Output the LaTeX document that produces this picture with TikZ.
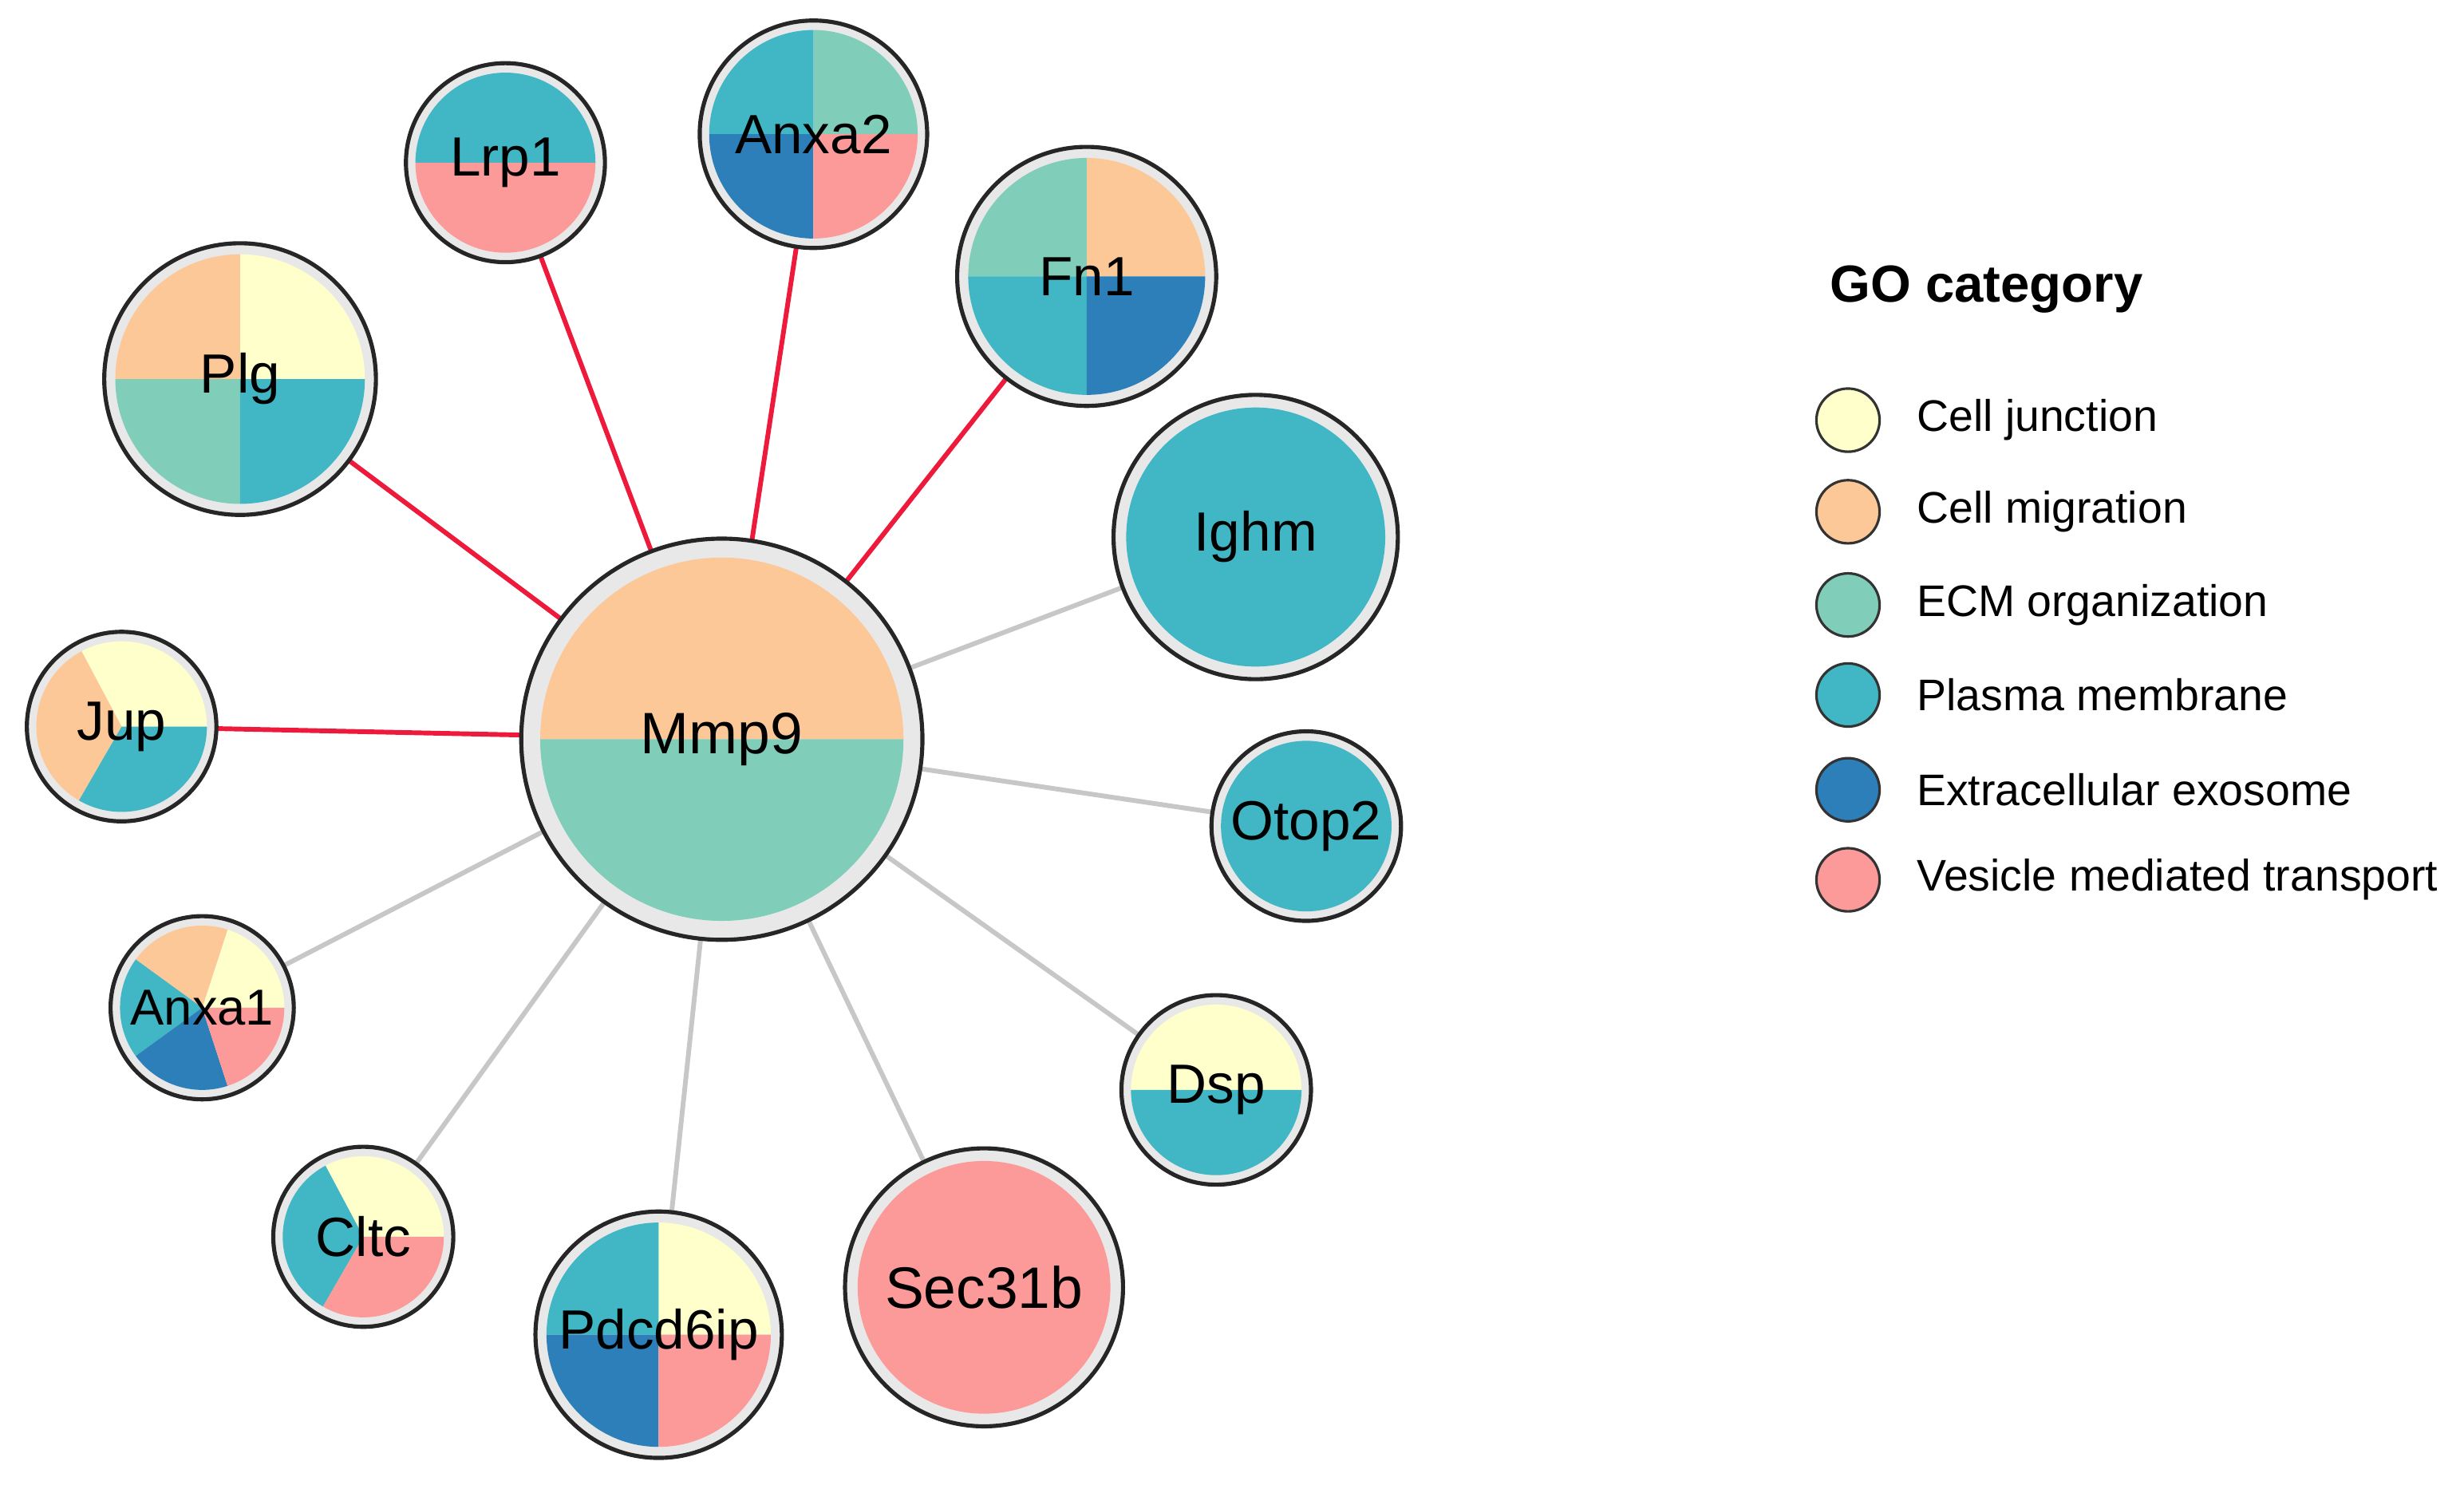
\documentclass[tikz,border=0pt]{standalone}
\usepackage{fontspec}
\setmainfont{Liberation Sans}
\definecolor{gcj}{HTML}{FFFFCC}
\definecolor{gcm}{HTML}{FDC897}
\definecolor{gce}{HTML}{80CDBA}
\definecolor{gcp}{HTML}{41B6C4}
\definecolor{gcx}{HTML}{2C7FB8}
\definecolor{gcv}{HTML}{FB9A99}
\definecolor{redge}{HTML}{EE1A3C}
\newcommand\psl[5]{\fill[fill=#5] (#1) -- ++(#3:#2pt) arc[start angle=#3,end angle=#4,radius=#2pt] -- cycle;}
\newcommand\ring[3]{\fill[gray!18] (#1) circle[radius=#2pt];}
\newcommand\border[2]{\draw[line width=2.6pt,black!85] (#1) circle[radius=#2pt];}
\tikzset{redline/.style={redge,line width=3pt},grayline/.style={black!22,line width=3pt},
 lbl/.style={font=\fontsize{35}{37}\selectfont},legtxt/.style={font=\fontsize{28}{30}\selectfont,anchor=west},
 legdot/.style={circle,draw=black!80,line width=1.6pt,minimum size=40pt,inner sep=0pt}}
\begin{document}
\begin{tikzpicture}[x=1pt,y=1pt]
\useasboundingbox (0,0) rectangle (1560,940);
\coordinate (mmp) at (457,472);
\coordinate (lrp) at (320,837);
\coordinate (anxb) at (515,855);
\coordinate (fn) at (688,765);
\coordinate (plg) at (152,700);
\coordinate (ighm) at (795,600);
\coordinate (jup) at (77,480);
\coordinate (otop) at (827,417);
\coordinate (anxa) at (128,302);
\coordinate (dsp) at (770,250);
\coordinate (cltc) at (230,157);
\coordinate (pdc) at (417,95);
\coordinate (sec) at (623,125);
% edges
\foreach \t in {lrp,anxb,fn,plg,jup} \draw[redline] (mmp) -- (\t);
\foreach \t in {ighm,otop,anxa,dsp,cltc,pdc,sec} \draw[grayline] (mmp) -- (\t);
% Mmp9
\ring{mmp}{127}{}
\psl{mmp}{115}{0}{180}{gcm}\psl{mmp}{115}{180}{360}{gce}
\border{mmp}{127}
\node[font=\fontsize{37}{40}\selectfont] at (mmp) {Mmp9};
% Lrp1
\ring{lrp}{63}{}
\psl{lrp}{57}{0}{180}{gcp}\psl{lrp}{57}{180}{360}{gcv}
\border{lrp}{63}
\node[lbl] at (lrp) {Lrp1};
% Anxa2
\ring{anxb}{72}{}
\psl{anxb}{66}{0}{90}{gce}\psl{anxb}{66}{90}{180}{gcp}\psl{anxb}{66}{180}{270}{gcx}\psl{anxb}{66}{270}{360}{gcv}
\border{anxb}{72}
\node[lbl] at (anxb) {Anxa2};
% Fn1
\ring{fn}{82}{}
\psl{fn}{75}{0}{90}{gcm}\psl{fn}{75}{90}{180}{gce}\psl{fn}{75}{180}{270}{gcp}\psl{fn}{75}{270}{360}{gcx}
\border{fn}{82}
\node[lbl] at (fn) {Fn1};
% Plg
\ring{plg}{86}{}
\psl{plg}{79}{0}{90}{gcj}\psl{plg}{79}{90}{180}{gcm}\psl{plg}{79}{180}{270}{gce}\psl{plg}{79}{270}{360}{gcp}
\border{plg}{86}
\node[lbl] at (plg) {Plg};
% Ighm
\ring{ighm}{90}{}
\fill[gcp] (ighm) circle[radius=82pt];
\border{ighm}{90}
\node[lbl] at (ighm) {Ighm};
% Jup
\ring{jup}{60}{}
\psl{jup}{54}{0}{118}{gcj}\psl{jup}{54}{118}{240}{gcm}\psl{jup}{54}{240}{360}{gcp}
\border{jup}{60}
\node[lbl] at (jup) {Jup};
% Otop2
\ring{otop}{60}{}
\fill[gcp] (otop) circle[radius=54pt];
\border{otop}{60}
\node[lbl] at (otop) {Otop2};
% Anxa1
\ring{anxa}{58}{}
\psl{anxa}{52}{0}{72}{gcj}\psl{anxa}{52}{72}{144}{gcm}\psl{anxa}{52}{144}{216}{gcp}\psl{anxa}{52}{216}{288}{gcx}\psl{anxa}{52}{288}{360}{gcv}
\border{anxa}{58}
\node[font=\fontsize{32}{34}\selectfont] at (anxa) {Anxa1};
% Dsp
\ring{dsp}{60}{}
\psl{dsp}{54}{0}{180}{gcj}\psl{dsp}{54}{180}{360}{gcp}
\border{dsp}{60}
\node[lbl] at (dsp) {Dsp};
% Cltc
\ring{cltc}{57}{}
\psl{cltc}{51}{0}{118}{gcj}\psl{cltc}{51}{118}{240}{gcp}\psl{cltc}{51}{240}{360}{gcv}
\border{cltc}{57}
\node[lbl] at (cltc) {Cltc};
% Pdcd6ip
\ring{pdc}{78}{}
\psl{pdc}{71}{0}{90}{gcj}\psl{pdc}{71}{90}{180}{gcp}\psl{pdc}{71}{180}{270}{gcx}\psl{pdc}{71}{270}{360}{gcv}
\border{pdc}{78}
\node[lbl] at (pdc) {Pdcd6ip};
% Sec31b
\ring{sec}{88}{}
\fill[gcv] (sec) circle[radius=80pt];
\border{sec}{88}
\node[font=\fontsize{37}{39}\selectfont] at (sec) {Sec31b};
% legend
\node[font=\bfseries\fontsize{33}{36}\selectfont,anchor=west] (title) at (1155,757) {GO category};
\node[legdot,fill=gcj] (l1) at (1170,674) {};
\node[legdot,fill=gcm] (l2) at (1170,616) {};
\node[legdot,fill=gce] (l3) at (1170,557) {};
\node[legdot,fill=gcp] (l4) at (1170,500) {};
\node[legdot,fill=gcx] (l5) at (1170,440) {};
\node[legdot,fill=gcv] (l6) at (1170,383) {};
\node[legtxt] at (1210,674) {Cell junction};
\node[legtxt] at (1210,616) {Cell migration};
\node[legtxt] at (1210,557) {ECM organization};
\node[legtxt] at (1210,500) {Plasma membrane};
\node[legtxt] at (1210,440) {Extracellular exosome};
\node[legtxt] at (1210,383) {Vesicle mediated transport};
\end{tikzpicture}
\end{document}
